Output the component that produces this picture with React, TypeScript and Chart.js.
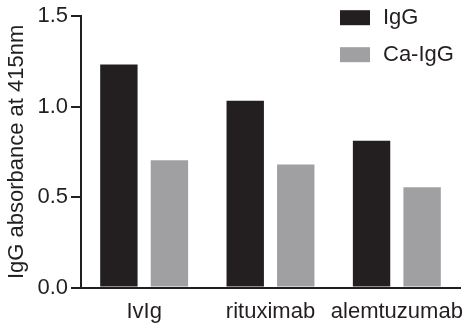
import React, { useEffect, useRef } from "react";
import { Chart, registerables } from "chart.js";

Chart.register(...registerables);

const categories = ["IvIg", "rituximab", "alemtuzumab"];
const igg = [1.233, 1.033, 0.811];
const caIgg = [0.704, 0.68, 0.555];
const seriesNames = ["IgG", "Ca-IgG"];
const yTicks = [0, 0.5, 1.0, 1.5];

const DARK = "#231f20";
const GRAY = "#a0a0a3";
const FONT = "'Liberation Sans', Arial, sans-serif";

const legendPlugin = {
  id: "customLegend",
  afterDraw(chart: any) {
    const ctx = chart.ctx;
    const area = chart.chartArea;
    ctx.save();
    chart.data.datasets.forEach((ds: any, i: number) => {
      const x = area.right - 120;
      const y = area.top - 6 + i * 37;
      ctx.fillStyle = ds.backgroundColor;
      ctx.fillRect(x, y, 30, 15);
      ctx.fillStyle = DARK;
      ctx.font = `22px ${FONT}`;
      ctx.textBaseline = "middle";
      ctx.textAlign = "left";
      ctx.fillText(ds.label, x + 43, y + 8);
    });
    ctx.restore();
  },
};

export default function App() {
  const ref = useRef<HTMLCanvasElement>(null);
  useEffect(() => {
    if (!ref.current) return;
    const chart = new Chart(ref.current, {
      type: "bar",
      data: {
        labels: categories,
        datasets: [
          { label: seriesNames[0], data: igg, backgroundColor: DARK },
          { label: seriesNames[1], data: caIgg, backgroundColor: GRAY },
        ],
      },
      options: {
        animation: false,
        responsive: true,
        maintainAspectRatio: false,
        layout: { padding: { top: 3, right: 3, left: 4, bottom: -8 } },
        datasets: { bar: { categoryPercentage: 0.8, barPercentage: 0.74 } },
        plugins: { legend: { display: false }, tooltip: { enabled: false } },
        scales: {
          x: {
            grid: { display: false, drawTicks: false },
            border: { display: true, color: DARK, width: 2 },
            afterFit: (scale: any) => {
              scale.paddingRight = 0;
              scale.paddingLeft = 0;
            },
            ticks: {
              color: DARK,
              font: { size: 22, family: FONT },
              padding: 11,
              maxRotation: 0,
              minRotation: 0,
              autoSkip: false,
            },
          },
          y: {
            min: 0,
            max: 1.5,
            afterBuildTicks: (axis: any) => {
              axis.ticks = yTicks.map((v) => ({ value: v }));
            },
            grid: {
              drawOnChartArea: false,
              drawTicks: true,
              tickLength: 10,
              color: DARK,
              lineWidth: 2,
            },
            border: { display: true, color: DARK, width: 2 },
            ticks: {
              color: DARK,
              font: { size: 22, family: FONT },
              padding: 3,
              callback: (v: any) => Number(v).toFixed(1),
            },
            title: {
              display: true,
              text: "IgG absorbance at 415nm",
              color: DARK,
              font: { size: 22, family: FONT },
              padding: { top: 0, bottom: 4 },
            },
          },
        },
      },
      plugins: [legendPlugin],
    });
    return () => chart.destroy();
  }, []);
  return (
    <div style={{ position: "absolute", left: 0, top: 0, width: 463, height: 328 }}>
      <canvas ref={ref} />
    </div>
  );
}
